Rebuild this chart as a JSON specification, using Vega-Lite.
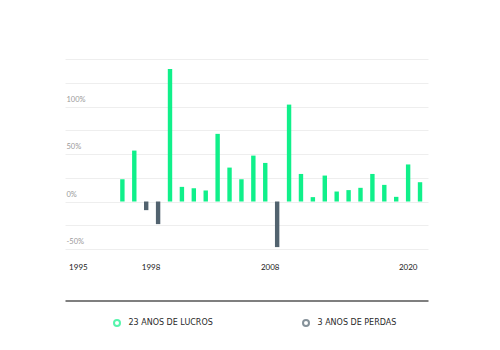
{
  "$schema": "https://vega.github.io/schema/vega-lite/v6.json",
  "width": 363,
  "height": 190,
  "autosize": "none",
  "padding": {"left": 65, "top": 59, "right": 72, "bottom": 101},
  "background": "white",
  "config": {"view": {"stroke": null}},
  "data": {
    "values": [
      {"year": 1995, "value": 23.4, "type": "23 ANOS DE LUCROS"},
      {"year": 1996, "value": 53.6, "type": "23 ANOS DE LUCROS"},
      {"year": 1997, "value": -9.1, "type": "3 ANOS DE PERDAS"},
      {"year": 1998, "value": -23.8, "type": "3 ANOS DE PERDAS"},
      {"year": 1999, "value": 139.5, "type": "23 ANOS DE LUCROS"},
      {"year": 2000, "value": 15.4, "type": "23 ANOS DE LUCROS"},
      {"year": 2001, "value": 14.0, "type": "23 ANOS DE LUCROS"},
      {"year": 2002, "value": 11.6, "type": "23 ANOS DE LUCROS"},
      {"year": 2003, "value": 71.2, "type": "23 ANOS DE LUCROS"},
      {"year": 2004, "value": 35.7, "type": "23 ANOS DE LUCROS"},
      {"year": 2005, "value": 23.4, "type": "23 ANOS DE LUCROS"},
      {"year": 2006, "value": 48.3, "type": "23 ANOS DE LUCROS"},
      {"year": 2007, "value": 40.6, "type": "23 ANOS DE LUCROS"},
      {"year": 2008, "value": -48.0, "type": "3 ANOS DE PERDAS"},
      {"year": 2009, "value": 102.0, "type": "23 ANOS DE LUCROS"},
      {"year": 2010, "value": 29.0, "type": "23 ANOS DE LUCROS"},
      {"year": 2011, "value": 4.6, "type": "23 ANOS DE LUCROS"},
      {"year": 2012, "value": 27.3, "type": "23 ANOS DE LUCROS"},
      {"year": 2013, "value": 10.5, "type": "23 ANOS DE LUCROS"},
      {"year": 2014, "value": 12.0, "type": "23 ANOS DE LUCROS"},
      {"year": 2015, "value": 14.4, "type": "23 ANOS DE LUCROS"},
      {"year": 2016, "value": 29.0, "type": "23 ANOS DE LUCROS"},
      {"year": 2017, "value": 17.5, "type": "23 ANOS DE LUCROS"},
      {"year": 2018, "value": 4.9, "type": "23 ANOS DE LUCROS"},
      {"year": 2019, "value": 39.0, "type": "23 ANOS DE LUCROS"},
      {"year": 2020, "value": 20.3, "type": "23 ANOS DE LUCROS"}
    ]
  },
  "resolve": {"legend": {"color": "independent"}},
  "encoding": {
    "x": {
      "field": "year",
      "type": "quantitative",
      "scale": {"domain": [1990.6, 2020.25], "nice": false, "zero": false},
      "axis": {
        "title": null,
        "orient": "bottom",
        "values": [1995, 1998, 2008, 2020],
        "format": "d",
        "grid": false,
        "ticks": false,
        "tickSize": 0,
        "offset": 51.4,
        "domain": true,
        "domainColor": "#555555",
        "domainWidth": 1.5,
        "labelFlush": false,
        "labelOverlap": false,
        "labelFont": "Lato",
        "labelFontSize": 8,
        "labelColor": "#1a1a1a",
        "labelBaseline": "alphabetic",
        "labelPadding": -30.7,
        "labelOffset": {
          "condition": [
            {"test": "datum.value == 1995", "value": -44.5},
            {"test": "datum.value == 2020", "value": -12.3}
          ],
          "value": -7.5
        }
      }
    },
    "y": {
      "field": "value",
      "type": "quantitative",
      "scale": {"domain": [-50, 150], "nice": false},
      "axis": {
        "title": null,
        "values": [-50, -25, 0, 25, 50, 75, 100, 125, 150],
        "labelExpr": "(datum.value % 50 == 0 && datum.value < 150) ? datum.value + '%' : ''",
        "domain": false,
        "ticks": false,
        "tickSize": 0,
        "grid": true,
        "gridColor": "#eeeeee",
        "gridWidth": 1,
        "labelAlign": "left",
        "labelBaseline": "alphabetic",
        "labelPadding": -1,
        "labelOffset": -5.3,
        "labelOverlap": false,
        "labelFont": "Lato",
        "labelFontSize": 7.5,
        "labelColor": "#9a9a9a"
      }
    }
  },
  "layer": [
    {
      "mark": {"type": "bar", "width": 4.4},
      "encoding": {
        "color": {
          "field": "type",
          "type": "nominal",
          "scale": {
            "domain": ["23 ANOS DE LUCROS", "3 ANOS DE PERDAS"],
            "range": ["#10f08a", "#52636f"]
          },
          "legend": null
        }
      }
    },
    {
      "transform": [{"filter": "datum.year < 0"}],
      "mark": {"type": "point", "shape": "circle", "filled": false, "strokeWidth": 2, "size": 36},
      "encoding": {
        "color": {
          "field": "type",
          "type": "nominal",
          "scale": {
            "domain": ["23 ANOS DE LUCROS", "3 ANOS DE PERDAS"],
            "range": ["#10f08a", "#52636f"]
          },
          "legend": {
            "title": null,
            "orient": "none",
            "direction": "horizontal",
            "legendX": 48,
            "legendY": 260,
            "symbolType": "circle",
            "symbolSize": 36,
            "symbolStrokeWidth": 2,
            "columnPadding": 86,
            "labelOffset": 7.5,
            "labelFont": "DejaVu Sans",
            "labelFontSize": 8,
            "labelColor": "#2a2a2a"
          }
        }
      }
    }
  ]
}
